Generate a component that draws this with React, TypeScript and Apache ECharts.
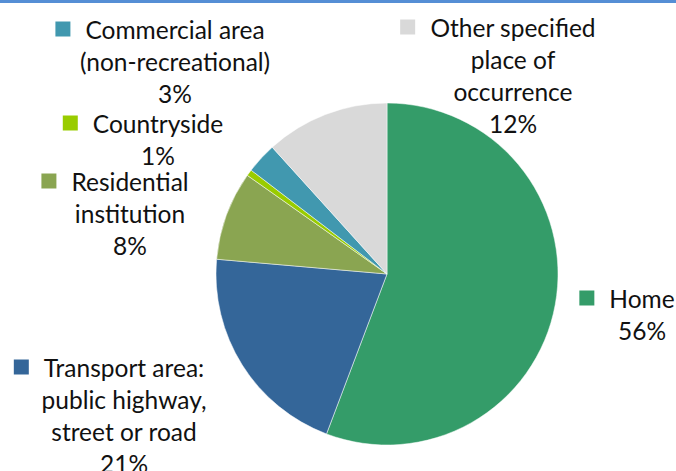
import React, { useEffect, useRef } from "react";
import * as echarts from "echarts";

const categories = [
  "Home",
  "Transport area: public highway, street or road",
  "Residential institution",
  "Countryside",
  "Commercial area (non-recreational)",
  "Other specified place of occurrence",
];
const labelLines = [
  ["Home"],
  ["Transport area:", "public highway,", "street or road"],
  ["Residential", "institution"],
  ["Countryside"],
  ["Commercial area", "(non-recreational)"],
  ["Other specified", "place of", "occurrence"],
];
const values = [55.7, 20.6, 8.4, 0.6, 2.9, 11.7];
const colors = ["#349C69", "#346699", "#8AA551", "#99CC00", "#4198AF", "#D9D9D9"];
// label block centres (layout only)
const labelPos = [
  [642, 314],
  [124, 415],
  [130, 213],
  [158, 139],
  [175, 61],
  [513, 75],
];

export default function App() {
  const ref = useRef<HTMLDivElement>(null);
  useEffect(() => {
    if (!ref.current) return;
    const chart = echarts.init(ref.current, null, { renderer: "svg" });
    const FONT = "Lato";
    const FS = 24.5;
    const LH = 32;
    const rich: any = {
      t: { fontFamily: FONT, fontSize: FS, lineHeight: LH, color: "#111" },
      g: { width: 15, lineHeight: LH, fontSize: FS },
      sp: { width: 30, lineHeight: LH, fontSize: FS },
    };
    colors.forEach((c, i) => {
      rich["sq" + i] = {
        width: 15,
        height: 15,
        backgroundColor: c,
        lineHeight: LH,
        fontSize: 1,
        verticalAlign: "middle",
      };
    });
    chart.setOption({
      animation: false,
      backgroundColor: "#fff",
      graphic: [
        {
          type: "rect",
          shape: { x: 0, y: 0, width: 676, height: 3 },
          style: { fill: "#558ED5" },
          silent: true,
        },
      ],
      series: [
        {
          type: "pie",
          center: [387, 274],
          radius: 171,
          startAngle: 90,
          clockwise: true,
          avoidLabelOverlap: false,
          itemStyle: { borderColor: "#fff", borderWidth: 0.5 },
          labelLine: { show: false },
          label: {
            show: true,
            position: "outside",
            align: "center",
            fontFamily: FONT,
            fontSize: FS,
            lineHeight: LH,
            color: "#111",
            rich,
            formatter: (p: any) => {
              const i = p.dataIndex;
              const lines = labelLines[i];
              const pct = Math.round(p.percent) + "%";
              const parts: string[] = [];
              lines.forEach((l, k) => {
                if (k === 0) parts.push(`{sq${i}| }{g| }{t|${l}}{sp| }`);
                else parts.push(`{t|${l}}`);
              });
              parts.push(`{t|${pct}}`);
              return parts.join("\n");
            },
          },
          labelLayout: (p: any) => ({
            x: labelPos[p.dataIndex][0],
            y: labelPos[p.dataIndex][1],
            align: "center",
            verticalAlign: "middle",
          }),
          data: categories.map((name, i) => ({
            name,
            value: values[i],
            itemStyle: { color: colors[i] },
          })),
        },
      ],
    });
    return () => chart.dispose();
  }, []);
  return (
    <div
      ref={ref}
      style={{ position: "fixed", left: 0, top: 0, width: 676, height: 471 }}
    />
  );
}
